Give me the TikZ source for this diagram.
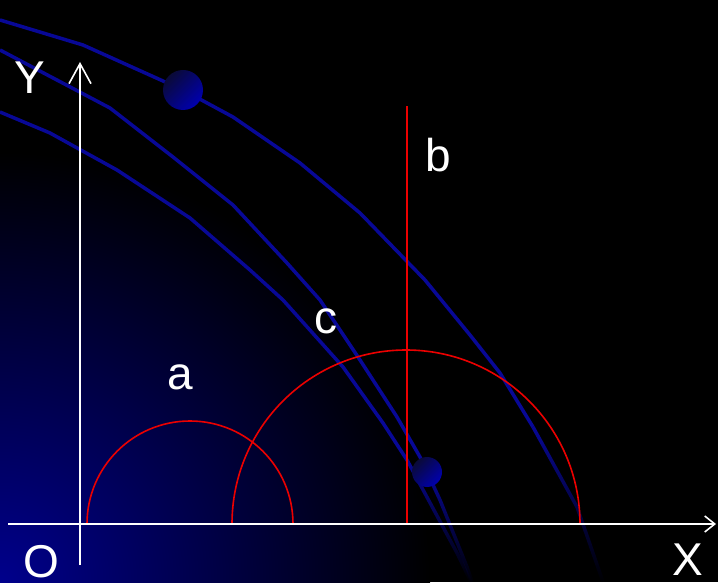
\documentclass[tikz,border=0pt]{standalone}
\usepackage{fontspec}
\setmainfont{Liberation Sans}
\usetikzlibrary{arrows.meta,fadings}
\definecolor{bgblue}{RGB}{0,0,140}
\definecolor{orbitblue}{RGB}{8,8,150}
\definecolor{balldark}{RGB}{10,10,55}
\definecolor{balllight}{RGB}{0,0,175}
\definecolor{curvered}{RGB}{235,0,0}
\tikzfading[name=fadedown, top color=transparent!0, bottom color=transparent!100]

\begin{document}
\begin{tikzpicture}[
    x=1pt, y=1pt,
    axis/.style={white, line width=1.6pt},
    orbit/.style={orbitblue, line width=3.5pt, line join=round},
    orbitfade/.style={orbit, path fading=fadedown},
    redline/.style={curvered, line width=1.6pt},
    ball/.style={top color=balldark, bottom color=balllight, shading angle=45},
    lbl/.style={white, font=\fontsize{46}{50}\selectfont, inner sep=0pt}
]

\useasboundingbox (0,0) rectangle (718,582);
\fill[black] (0,0) rectangle (718,582);
\begin{scope}
\clip (0,0) rectangle (718,582);
\shade[inner color=bgblue, outer color=black] (0,0) circle (430);
\end{scope}

% orbits
\draw[orbit] (0,562) -- (83,537) -- (183,492) -- (233,465) -- (300,419) -- (360,369)
    -- (425,302) -- (470,247) -- (500,209) -- (533,155);
\draw[orbitfade] (533,155) -- (577,75) -- (603,0);
\draw[orbit] (0,532) -- (110,474) -- (173,425) -- (233,377) -- (287,319) -- (320,282)
    -- (360,222) -- (397,165) -- (420,125) -- (427,110);
\draw[orbitfade] (427,110) -- (440,82) -- (467,15) -- (472,0);
\draw[orbit] (0,470) -- (50,449) -- (117,412) -- (190,364) -- (250,312) -- (283,282)
    -- (343,215) -- (383,159) -- (407,122);
\draw[orbitfade] (407,122) -- (457,29) -- (470,2) -- (471,0);

\shade[ball] (183,492) circle (20);
\shade[ball] (427,110) circle (15);

% coordinates
\coordinate (O) at (80,58);
\coordinate (xstart) at (8,58);
\coordinate (xend) at (716,58);
\coordinate (ystart) at (80,17);
\coordinate (yend) at (80,520);
\coordinate (ca) at (190,58);
\coordinate (cb) at (406,58);
\coordinate (btop) at (407,476);

\draw[redline] (ca) ++(-103,0) arc (180:0:103);
\draw[redline] (cb) ++(-174,0) arc (180:0:174);
\draw[redline] (407,58) -- (btop);

\draw[axis, -{Straight Barb[length=10pt,width=16pt]}] (xstart) -- (xend);
\draw[axis, -{Straight Barb[length=20pt,width=22pt]}] (ystart) -- (yend);

\node[lbl] (ylbl) at (30,504) {Y};
\node[lbl] (olbl) at (41,20) {O};
\node[lbl] (xlbl) at (688,22) {X};
\node[lbl] (albl) at (180,205) {a};
\node[lbl] (blbl) at (438,427) {b};
\node[lbl] (clbl) at (326,261) {c};

\end{tikzpicture}
\end{document}
